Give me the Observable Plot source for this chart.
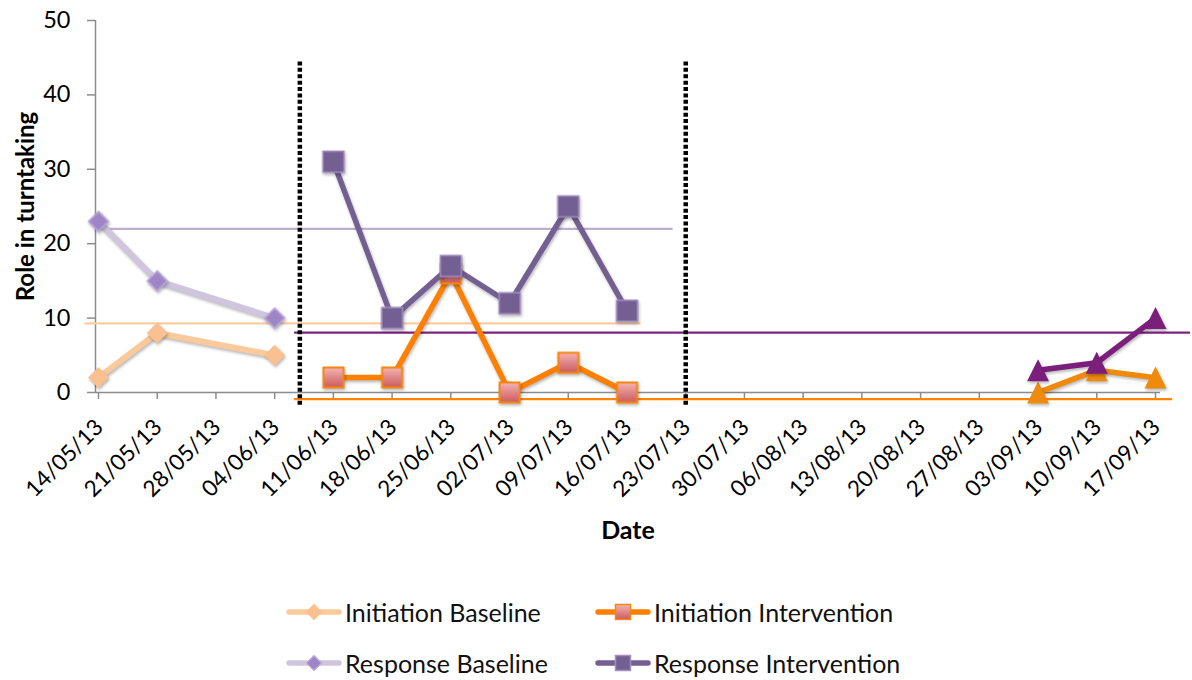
<!DOCTYPE html>
<html>
<head>
<meta charset="utf-8">
<script src="https://cdn.jsdelivr.net/npm/d3@7"></script>
<script src="https://cdn.jsdelivr.net/npm/@observablehq/plot@0.6"></script>
<style>
  body { margin: 0; background: #fff; font-family: Lato, sans-serif; }
  #wrap { position: relative; width: 1192px; height: 680px; overflow: hidden; }
  #legend { position: absolute; left: 0; top: 580px; width: 1192px; height: 100px; }
  .li { position: absolute; display: flex; align-items: center; font-size: 25px; color: #111; white-space: nowrap; height: 30px; }
  .li svg { display: block; margin-right: 3px; }
</style>
</head>
<body>
<div id="wrap"><div id="legend"></div></div>
<script>
// ---------- data ----------
const tickLabels = ["14/05/13","21/05/13","28/05/13","04/06/13","11/06/13","18/06/13","25/06/13","02/07/13","09/07/13","16/07/13","23/07/13","30/07/13","06/08/13","13/08/13","20/08/13","27/08/13","03/09/13","10/09/13","17/09/13"];
const yTicks = [0, 10, 20, 30, 40, 50];

const baselineDates = ["14/05/13", "21/05/13", "04/06/13"];
const initiationBaseline = [2, 8, 5];
const responseBaseline = [23, 15, 10];

const interventionDates = ["11/06/13", "18/06/13", "25/06/13", "02/07/13", "09/07/13", "16/07/13"];
const initiationIntervention = [2, 2, 16, 0, 4, 0];
const responseIntervention = [31, 10, 17, 12, 25, 11];

const followUpDates = ["03/09/13", "10/09/13", "17/09/13"];
const initiationFollowUp = [0, 3, 2];
const responseFollowUp = [3, 4, 10];

// phase-change lines (date, value range)
const phaseChangeDates = ["07/06/13", "23/07/13"];
const phaseLineRange = [-1.7, 44.6];

// drawn mean / level lines
const meanNames  = ["Response Baseline", "Initiation Baseline", "Response Intervention", "Initiation Intervention"];
const meanValues = [22.0, 9.3, 8.05, -0.9];
const meanStart  = ["14/05/13 06:00", "12/05/13 09:00", "06/06/13 09:00", "06/06/13 09:00"];
const meanEnd    = ["21/07/13 12:00", "17/07/13 16:00", "21/09/13 04:00", "19/09/13 01:00"];

const legendNames = ["Initiation Baseline", "Initiation Intervention", "Response Baseline", "Response Intervention"];

// ---------- styles ----------
const C = {
  peachLine: "#FBCA9C", peachDot: "#FAC08F",
  lavLine: "#CFC5DE", lavDot: "#9E86C6", lavDotStroke: "#BBA8DA",
  orange: "#FF7F00", orangeDotStroke: "#F7860F",
  purpleInt: "#745F92", purpleIntStroke: "#A28EC2",
  fuPurple: "#7C1E7C", fuOrange: "#EF8A0B",
  meanColors: ["#BCB0D1", "#FCCDA5", "#7E2280", "#FF8200"],
  axis: "#8C8C8C"
};

// ---------- helpers ----------
const P = d3.timeParse("%d/%m/%y");
const PT = d3.timeParse("%d/%m/%y %H:%M");
const series = (dates, vals) => dates.map((d, i) => ({date: P(d), value: vals[i]}));
const diamond = {draw(ctx, size) { const h = Math.sqrt(size / Math.PI); ctx.moveTo(0, -h); ctx.lineTo(h, 0); ctx.lineTo(0, h); ctx.lineTo(-h, 0); ctx.closePath(); }};
const square = {draw(ctx, size) { const h = Math.sqrt(size / Math.PI); ctx.moveTo(-h, -h); ctx.lineTo(h, -h); ctx.lineTo(h, h); ctx.lineTo(-h, h); ctx.closePath(); }};
const triangle = {draw(ctx, size) { const h = Math.sqrt(size / Math.PI); ctx.moveTo(0, -h); ctx.lineTo(h, h); ctx.lineTo(-h, h); ctx.closePath(); }};

const iBase = series(baselineDates, initiationBaseline);
const rBase = series(baselineDates, responseBaseline);
const iInt = series(interventionDates, initiationIntervention);
const rInt = series(interventionDates, responseIntervention);
const iFU = series(followUpDates, initiationFollowUp);
const rFU = series(followUpDates, responseFollowUp);
const ticks = tickLabels.map(l => ({date: P(l), label: l}));
const phaseRows = phaseChangeDates.map(d => ({date: P(d), y1: phaseLineRange[0], y2: phaseLineRange[1]}));
const meanRows = meanValues.map((v, i) => ({name: meanNames[i], y: v, x1: PT(meanStart[i]), x2: PT(meanEnd[i])}));

const plot = Plot.plot({
  width: 1192,
  height: 580,
  marginTop: 20,
  marginBottom: 188,
  marginLeft: 95,
  marginRight: 32,
  insetLeft: 3,
  insetRight: 5,
  style: {fontFamily: "Lato, sans-serif", fontSize: "22px", color: "#000", background: "#fff"},
  x: {type: "time", domain: [P(tickLabels[0]), P(tickLabels[tickLabels.length - 1])]},
  y: {domain: [0, 50]},
  marks: [
    // axes
    Plot.ruleX([ticks[0]], {x: "date", dx: -3, stroke: C.axis, strokeWidth: 1.5}),
    Plot.ruleY([0], {stroke: C.axis, strokeWidth: 1.5}),
    Plot.axisY({ticks: yTicks, tickSize: 8, tickPadding: 17, stroke: C.axis, strokeWidth: 1.5, fill: "#000", fontSize: 23.5, label: null}),
    Plot.axisX({ticks: ticks.map(t => t.date), tickSize: 7, tickFormat: () => "", stroke: C.axis, strokeWidth: 1.5, label: null}),
    Plot.text(ticks, {x: "date", frameAnchor: "bottom", text: "label", rotate: -45, textAnchor: "end", lineAnchor: "bottom", dx: 6, dy: 36, fontSize: 22.5, fill: "#000"}),
    Plot.text(["Date"], {frameAnchor: "bottom", text: d => d, textAnchor: "middle", lineAnchor: "bottom", dy: 146, fontSize: 25, fontWeight: "bold", fill: "#000"}),
    Plot.text(["Role in turntaking"], {frameAnchor: "left", text: d => d, rotate: -90, textAnchor: "middle", lineAnchor: "bottom", dx: -62, fontSize: 24, fontWeight: "bold", fill: "#000"}),

    // mean lines
    ...meanRows.map((r, i) => Plot.ruleY([r], {y: "y", x1: "x1", x2: "x2", stroke: C.meanColors[i], strokeWidth: 2.2})),

    // baseline
    Plot.line(iBase, {x: "date", y: "value", stroke: C.peachLine, strokeWidth: 6}),
    Plot.dot(iBase, {x: "date", y: "value", symbol: diamond, r: 10, fill: C.peachDot, stroke: C.peachDot, strokeWidth: 1}),
    Plot.line(rBase, {x: "date", y: "value", stroke: C.lavLine, strokeWidth: 6}),
    Plot.dot(rBase, {x: "date", y: "value", symbol: diamond, r: 10, fill: C.lavDot, stroke: C.lavDotStroke, strokeWidth: 1.5}),

    // intervention
    Plot.line(iInt, {x: "date", y: "value", stroke: C.orange, strokeWidth: 5.5}),
    Plot.dot(iInt, {x: "date", y: "value", symbol: square, r: 10, fill: "url(#pinkGrad)", stroke: C.orangeDotStroke, strokeWidth: 2}),
    Plot.line(rInt, {x: "date", y: "value", stroke: C.purpleInt, strokeWidth: 5.5}),
    Plot.dot(rInt, {x: "date", y: "value", symbol: square, r: 10.5, fill: C.purpleInt, stroke: C.purpleIntStroke, strokeWidth: 1.5}),

    // follow-up
    Plot.line(iFU, {x: "date", y: "value", stroke: C.fuOrange, strokeWidth: 5.5}),
    Plot.dot(iFU, {x: "date", y: "value", symbol: triangle, r: 11, fill: C.fuOrange}),
    Plot.line(rFU, {x: "date", y: "value", stroke: C.fuPurple, strokeWidth: 5.5}),
    Plot.dot(rFU, {x: "date", y: "value", symbol: triangle, r: 11, fill: C.fuPurple}),

    // phase change lines
    Plot.ruleX(phaseRows, {x: "date", y1: "y1", y2: "y2", stroke: "#000", strokeWidth: 4.5, strokeDasharray: "4,2.4"})
  ]
});

// gradient + shadows
const NS = "http://www.w3.org/2000/svg";
const defs = document.createElementNS(NS, "defs");
const grad = document.createElementNS(NS, "linearGradient");
grad.setAttribute("id", "pinkGrad");
grad.setAttribute("x1", "0"); grad.setAttribute("y1", "0"); grad.setAttribute("x2", "0"); grad.setAttribute("y2", "1");
[["0", "#F4B4B2"], ["1", "#CB5A5E"]].forEach(([o, c]) => {
  const s = document.createElementNS(NS, "stop");
  s.setAttribute("offset", o); s.setAttribute("stop-color", c);
  grad.appendChild(s);
});
defs.appendChild(grad);
plot.insertBefore(defs, plot.firstChild);
plot.querySelectorAll('g[aria-label="line"], g[aria-label="dot"]').forEach(g => {
  g.style.filter = "drop-shadow(1px 2px 1.5px rgba(0,0,0,0.28))";
});
document.getElementById("wrap").insertBefore(plot, document.getElementById("legend"));

// ---------- legend ----------
const legendStyle = {
  "Initiation Baseline": {line: C.peachLine, sym: "diamond", fill: C.peachDot, stroke: C.peachDot, h: 7.5},
  "Initiation Intervention": {line: C.orange, sym: "square", fill: "url(#pinkGradL)", stroke: C.orangeDotStroke, h: 7.5},
  "Response Baseline": {line: C.lavLine, sym: "diamond", fill: C.lavDot, stroke: C.lavDotStroke, h: 7.5},
  "Response Intervention": {line: C.purpleInt, sym: "square", fill: C.purpleInt, stroke: C.purpleIntStroke, h: 7.5}
};
const legendPos = [[286, 32], [595, 32], [286, 83], [595, 83]];
const legend = document.getElementById("legend");
legendNames.forEach((name, i) => {
  const st = legendStyle[name];
  const [lx, ly] = legendPos[i];
  const item = document.createElement("div");
  item.className = "li";
  item.style.left = lx + "px";
  item.style.top = (ly - 15) + "px";
  const h = st.h;
  const shape = st.sym === "diamond"
    ? `<path d="M28,${15 - h}L${28 + h},15L28,${15 + h}L${28 - h},15Z" fill="${st.fill}" stroke="${st.stroke}" stroke-width="1.2"/>`
    : `<rect x="${28 - h}" y="${15 - h}" width="${2 * h}" height="${2 * h}" fill="${st.fill}" stroke="${st.stroke}" stroke-width="1.5"/>`;
  item.innerHTML = `<svg width="56" height="30" viewBox="0 0 56 30">
    <defs><linearGradient id="pinkGradL" x1="0" y1="0" x2="0" y2="1"><stop offset="0" stop-color="#F4B4B2"/><stop offset="1" stop-color="#CB5A5E"/></linearGradient></defs>
    <line x1="3" y1="15" x2="53" y2="15" stroke="${st.line}" stroke-width="5.5" stroke-linecap="round"/>${shape}</svg><span>${name}</span>`;
  legend.appendChild(item);
});
</script>
</body>
</html>
